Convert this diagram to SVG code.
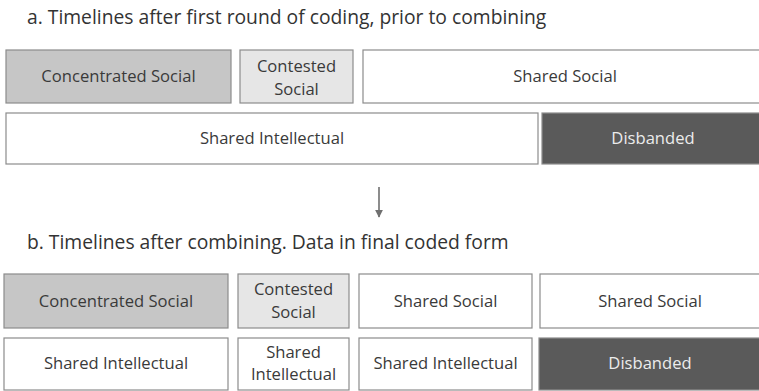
<svg xmlns="http://www.w3.org/2000/svg" width="759" height="391" viewBox="0 0 759 391">
<style>
  .title { font-family: "Open Sans", "Noto Sans", sans-serif; font-size: 19.3px; fill: #333333; }
  .lbl { font-family: "Open Sans", "Noto Sans", sans-serif; font-size: 16.6px; fill: #3a3a3a; text-anchor: middle; }
  .lbl.inv { fill: #ececec; }
  .box { stroke: #8c8c8c; stroke-width: 1.2; }
  .conc { fill: #c6c6c6; }
  .cont { fill: #e6e6e6; }
  .wht { fill: #ffffff; }
  .dark { fill: #5a5a5a; }
  .conn { stroke: #707070; stroke-width: 1.6; fill: none; }
</style>
<defs>
  <marker id="arr" viewBox="0 0 10 10" refX="9" refY="5" markerWidth="5" markerHeight="5" orient="auto" markerUnits="strokeWidth">
    <path d="M0,0 L10,5 L0,10 z" fill="#707070"/>
  </marker>
</defs>
<rect width="759" height="391" fill="#ffffff"/>

<text class="title" x="27" y="24">a. Timelines after first round of coding, prior to combining</text>
<text class="title" x="27" y="249">b. Timelines after combining. Data in final coded form</text>

<g id="a-concentrated-social"><rect class="box conc" x="6" y="50" width="225" height="53"/><text class="lbl" x="118.5" y="82">Concentrated Social</text></g>
<g id="a-contested-social"><rect class="box cont" x="240" y="50" width="113" height="53"/><text class="lbl" x="296.5" y="72">Contested</text><text class="lbl" x="296.5" y="95">Social</text></g>
<g id="a-shared-social"><rect class="box wht" x="363" y="50" width="404" height="53"/><text class="lbl" x="565" y="82">Shared Social</text></g>
<g id="a-shared-intellectual"><rect class="box wht" x="6" y="113" width="532" height="51"/><text class="lbl" x="272" y="144">Shared Intellectual</text></g>
<g id="a-disbanded"><rect class="box dark" x="542" y="113" width="223" height="51"/><text class="lbl inv" x="653" y="144">Disbanded</text></g>

<g id="connectors">
  <line class="conn" x1="379" y1="187" x2="379" y2="217" marker-end="url(#arr)"/>
</g>

<g id="b-concentrated-social"><rect class="box conc" x="4" y="274" width="224" height="54"/><text class="lbl" x="116" y="307">Concentrated Social</text></g>
<g id="b-contested-social"><rect class="box cont" x="238" y="274" width="111" height="54"/><text class="lbl" x="293.5" y="295">Contested</text><text class="lbl" x="293.5" y="318">Social</text></g>
<g id="b-shared-social-1"><rect class="box wht" x="359" y="274" width="173" height="54"/><text class="lbl" x="445.5" y="307">Shared Social</text></g>
<g id="b-shared-social-2"><rect class="box wht" x="540" y="274" width="222" height="54"/><text class="lbl" x="650" y="307">Shared Social</text></g>
<g id="b-shared-intellectual-1"><rect class="box wht" x="4" y="338" width="224" height="52"/><text class="lbl" x="116" y="369">Shared Intellectual</text></g>
<g id="b-shared-intellectual-2"><rect class="box wht" x="238" y="338" width="111" height="52"/><text class="lbl" x="293.5" y="358">Shared</text><text class="lbl" x="293.5" y="380">Intellectual</text></g>
<g id="b-shared-intellectual-3"><rect class="box wht" x="359" y="338" width="173" height="52"/><text class="lbl" x="445.5" y="369">Shared Intellectual</text></g>
<g id="b-disbanded"><rect class="box dark" x="539" y="338" width="223" height="52"/><text class="lbl inv" x="650" y="369">Disbanded</text></g>
</svg>
